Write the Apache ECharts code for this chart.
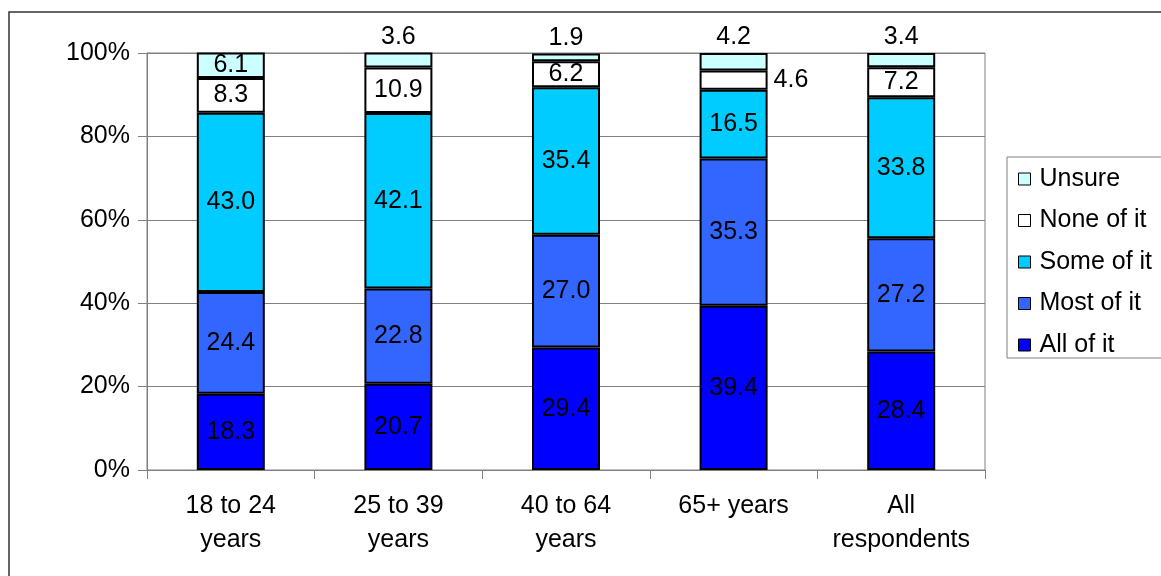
<!DOCTYPE html>
<html>
<head>
<meta charset="utf-8">
<script src="https://cdn.jsdelivr.net/npm/echarts@6/dist/echarts.min.js"></script>
<style>
  html, body { margin: 0; padding: 0; background: #fff; }
  #chart { width: 1161px; height: 576px; }
</style>
</head>
<body>
<div id="chart"></div>
<script>
// Age groups and response shares (%)
const categories = ['18 to 24\nyears', '25 to 39\nyears', '40 to 64\nyears', '65+ years', 'All\nrespondents'];
const allOfIt   = [18.3, 20.7, 29.4, 39.4, 28.4];
const mostOfIt  = [24.4, 22.8, 27.0, 35.3, 27.2];
const someOfIt  = [43.0, 42.1, 35.4, 16.5, 33.8];
const noneOfIt  = [8.3, 10.9, 6.2, 4.6, 7.2];
const unsure    = [6.1, 3.6, 1.9, 4.2, 3.4];
const yTicks    = [0, 20, 40, 60, 80, 100];

const FONT = '"Liberation Sans", Arial, sans-serif';
const FS = 25;

// Thin segments get their labels placed outside the bar
const labelPlacement = {
  'Unsure':     ['inside', 'top', 'top', 'top', 'top'],
  'None of it': ['inside', 'inside', 'inside', 'right', 'inside']
};

function makeSeries(name, values, color) {
  const places = labelPlacement[name];
  return {
    name: name,
    type: 'bar',
    stack: 'total',
    barWidth: 68,
    itemStyle: { color: color, borderColor: '#000', borderWidth: 2 },
    label: {
      show: true,
      position: 'inside',
      color: '#000',
      fontFamily: FONT,
      fontSize: FS,
      formatter: p => p.value.toFixed(1)
    },
    data: values.map((v, i) => {
      const pos = places ? places[i] : 'inside';
      if (pos === 'inside') return v;
      return { value: v, label: { position: pos, distance: pos === 'top' ? 3 : 6 } };
    })
  };
}

const chart = echarts.init(document.getElementById('chart'), null, { renderer: 'canvas' });

chart.setOption({
  animation: false,
  backgroundColor: '#fff',
  textStyle: { fontFamily: FONT },
  graphic: [{
    type: 'rect',
    shape: { x: 9, y: 12, width: 1300, height: 700 },
    style: { fill: 'none', stroke: '#333', lineWidth: 1.5 },
    silent: true
  }],
  grid: {
    left: 147, right: 176, top: 53, bottom: 106,
    show: true, borderColor: '#808080', borderWidth: 1, backgroundColor: 'transparent'
  },
  legend: {
    orient: 'vertical',
    left: 1007,
    top: 157,
    padding: [9, 30, 0, 11],
    borderColor: '#808080',
    borderWidth: 1,
    itemWidth: 12,
    itemHeight: 12,
    itemGap: 15.5,
    icon: 'rect',
    itemStyle: { borderColor: '#000', borderWidth: 1 },
    textStyle: { fontFamily: FONT, fontSize: FS, color: '#000', lineHeight: 26, padding: [0, 0, 0, 4] },
    data: ['Unsure', 'None of it', 'Some of it', 'Most of it', 'All of it']
  },
  xAxis: {
    type: 'category',
    data: categories,
    axisLine: { lineStyle: { color: '#808080', width: 1 } },
    axisTick: { show: true, alignWithLabel: false, length: 9, lineStyle: { color: '#808080' } },
    axisLabel: { color: '#000', fontFamily: FONT, fontSize: FS, lineHeight: 34, margin: 19, interval: 0 }
  },
  yAxis: {
    type: 'value',
    min: yTicks[0],
    max: yTicks[yTicks.length - 1],
    interval: yTicks[1] - yTicks[0],
    axisLine: { show: true, lineStyle: { color: '#808080', width: 1 } },
    axisTick: { show: true, length: 9, lineStyle: { color: '#808080' } },
    axisLabel: { color: '#000', fontFamily: FONT, fontSize: FS, margin: 17, formatter: '{value}%' },
    splitLine: { show: true, lineStyle: { color: '#808080', width: 1 } }
  },
  series: [
    makeSeries('All of it', allOfIt, '#0000FF'),
    makeSeries('Most of it', mostOfIt, '#3366FF'),
    makeSeries('Some of it', someOfIt, '#00CCFF'),
    makeSeries('None of it', noneOfIt, '#FFFFFF'),
    makeSeries('Unsure', unsure, '#CCFFFF')
  ]
});
</script>
</body>
</html>
